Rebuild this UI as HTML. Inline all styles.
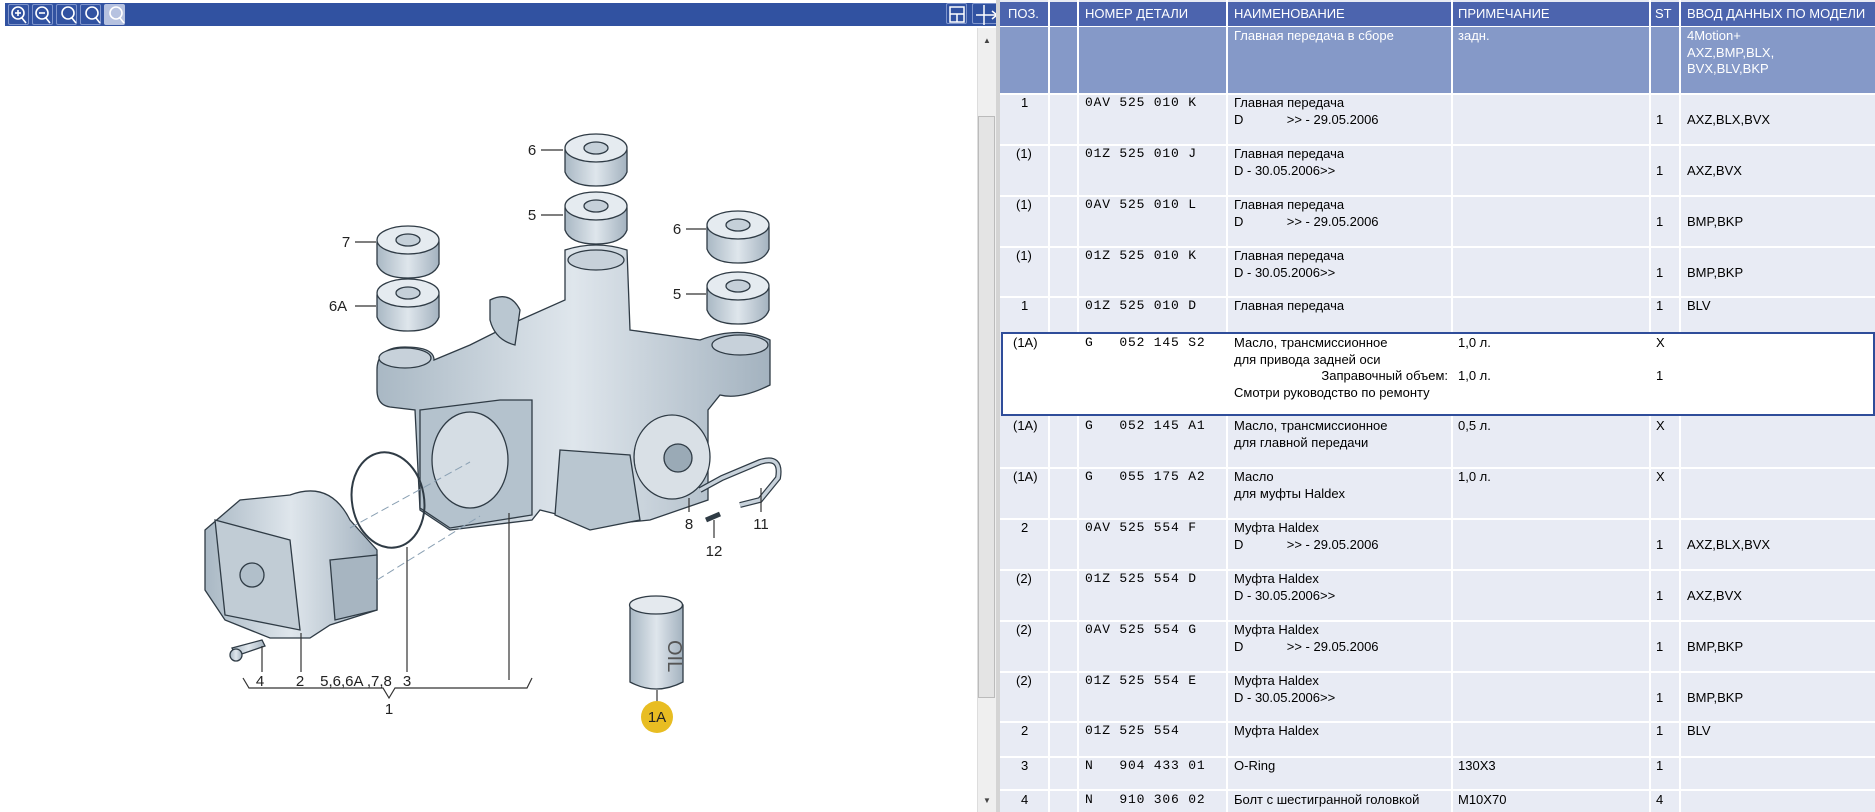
<!DOCTYPE html>
<html><head><meta charset="utf-8"><style>
*{margin:0;padding:0;box-sizing:border-box}
body{width:1875px;height:812px;overflow:hidden;background:#fff;position:relative;font-family:"Liberation Sans",Arial,sans-serif}
.abs{position:absolute}
.tb{position:absolute;top:3px;height:23px;background:#3152a1}
.ic{position:absolute;top:4px;width:21px;height:21px;border:1px solid #7f95cc;border-radius:2px;background:#3152a1}
.c{position:absolute;font-size:13px;line-height:16.7px;color:#000;white-space:pre;overflow:hidden}
.m{font-family:"Liberation Mono",monospace;font-size:13px;letter-spacing:.8px}
.h{color:#fff}
</style></head><body>
<!-- toolbar -->
<div class="tb" style="left:5px;width:995px"></div>
<div class="ic" style="left:8px"></div><div class="ic" style="left:32px"></div><div class="ic" style="left:56px"></div><div class="ic" style="left:80px"></div>
<div class="ic" style="left:104px;background:#b6c2e0;border-color:#b6c2e0"></div>
<svg class="abs" style="left:0;top:0" width="130" height="28">
<g fill="none" stroke="#fff" stroke-width="1.6">
<circle cx="18" cy="13" r="6"/><line x1="22" y1="18" x2="26" y2="23"/><line x1="15" y1="13" x2="21" y2="13"/><line x1="18" y1="10" x2="18" y2="16"/>
<circle cx="42" cy="13" r="6"/><line x1="46" y1="18" x2="50" y2="23"/><line x1="39" y1="13" x2="45" y2="13"/>
<circle cx="68" cy="13" r="6"/><line x1="72" y1="18" x2="76" y2="23"/>
<circle cx="92" cy="13" r="6"/><line x1="96" y1="18" x2="100" y2="23"/>
<circle cx="116" cy="13" r="6"/><line x1="120" y1="18" x2="124" y2="23"/></g></svg>
<div class="ic" style="left:946px;top:3px"></div><div class="ic" style="left:972px;top:3px;width:26px"></div>
<svg class="abs" style="left:946px;top:3px" width="54" height="24"><g stroke="#fff" fill="none" stroke-width="1.5"><rect x="4" y="4" width="14" height="15"/><line x1="4" y1="11" x2="18" y2="11"/><line x1="11" y1="11" x2="11" y2="19"/><line x1="38" y1="2" x2="38" y2="22"/><line x1="30" y1="12" x2="50" y2="12"/><path d="M46 8 L51 12 L46 16"/></g></svg>
<!-- scrollbar -->
<div class="abs" style="left:977px;top:28px;width:19px;height:784px;background:#efefef;border-left:1px solid #ddd"></div>
<div class="abs" style="left:978px;top:116px;width:17px;height:582px;background:#e4e4e4;border:1px solid #bbb"></div>
<div class="abs" style="left:983px;top:36px;font-size:8px;color:#444">▲</div>
<div class="abs" style="left:983px;top:796px;font-size:8px;color:#444">▼</div>
<div class="abs" style="left:996px;top:0;width:4px;height:812px;background:#d4d4d4"></div>

<!-- diagram -->
<svg class="abs" style="left:0;top:28px" width="977" height="784" viewBox="0 28 977 784">
<defs><linearGradient id="g" x1="0" x2="1"><stop offset="0" stop-color="#a9b8c4"/><stop offset=".5" stop-color="#dfe6ec"/><stop offset="1" stop-color="#a3b2bf"/></linearGradient></defs>
<g stroke="#2f3b45" stroke-width="1.3" fill="url(#g)">
<!-- housing -->
<path d="M377 370 Q377 347 405 347 Q434 347 434 360 L470 345 L520 320 L565 300 L565 250 Q596 240 627 250 L630 330 L700 340 Q740 325 770 340 L770 385 Q740 400 720 395 L708 410 L708 500 L650 520 L600 525 L540 510 L532 520 L450 530 L420 510 L415 410 L390 407 Q377 405 377 390 Z"/>
<ellipse cx="405" cy="358" rx="26" ry="10" fill="#c7d1da"/>
<ellipse cx="596" cy="260" rx="28" ry="10" fill="#c7d1da"/>
<ellipse cx="740" cy="345" rx="28" ry="10" fill="#c7d1da"/>
<path d="M420 410 L500 400 L532 400 L532 515 L450 528 L420 508 Z" fill="#b4c2cd"/>
<ellipse cx="470" cy="460" rx="38" ry="48" fill="#d5dde4"/>
<ellipse cx="672" cy="457" rx="38" ry="42" fill="#d9e0e6"/>
<circle cx="678" cy="458" r="14" fill="#9aaab6"/>
<path d="M560 450 L630 455 L640 520 L590 530 L555 515 Z" fill="#b9c6d0"/>
<path d="M490 300 Q510 290 520 310 L515 345 Q495 340 490 320 Z" fill="#bac7d1"/>
<!-- haldex -->
<path d="M205 530 L240 500 L290 495 Q330 480 350 520 L377 550 L377 610 L330 625 L310 638 L270 638 L225 620 L205 590 Z"/>
<path d="M215 520 L290 540 L300 630 L225 615 Z" fill="#c1ccd5"/>
<circle cx="252" cy="575" r="12" fill="#b1bfca"/>
<path d="M330 560 L377 555 L377 610 L335 620 Z" fill="#a7b5c1"/>
<!-- bolt -->
<path d="M232 648 L262 640 L265 646 L236 656 Z"/><circle cx="236" cy="655" r="6"/>
<!-- caps -->
<g id="cap">
<path d="M565 150 L565 172 Q570 186 596 186 Q622 186 627 172 L627 150 Z"/>
<ellipse cx="596" cy="148" rx="31" ry="14" fill="#e5ebf0"/>
<ellipse cx="596" cy="148" rx="12" ry="6" fill="#c5d0d9"/>
</g>
<g transform="translate(0,58)"><path d="M565 150 L565 172 Q570 186 596 186 Q622 186 627 172 L627 150 Z"/><ellipse cx="596" cy="148" rx="31" ry="14" fill="#e5ebf0"/><ellipse cx="596" cy="148" rx="12" ry="6" fill="#c5d0d9"/></g>
<g transform="translate(142,77)"><path d="M565 150 L565 172 Q570 186 596 186 Q622 186 627 172 L627 150 Z"/><ellipse cx="596" cy="148" rx="31" ry="14" fill="#e5ebf0"/><ellipse cx="596" cy="148" rx="12" ry="6" fill="#c5d0d9"/></g>
<g transform="translate(142,138)"><path d="M565 150 L565 172 Q570 186 596 186 Q622 186 627 172 L627 150 Z"/><ellipse cx="596" cy="148" rx="31" ry="14" fill="#e5ebf0"/><ellipse cx="596" cy="148" rx="12" ry="6" fill="#c5d0d9"/></g>
<g transform="translate(-188,92)"><path d="M565 150 L565 172 Q570 186 596 186 Q622 186 627 172 L627 150 Z"/><ellipse cx="596" cy="148" rx="31" ry="14" fill="#e5ebf0"/><ellipse cx="596" cy="148" rx="12" ry="6" fill="#c5d0d9"/></g>
<g transform="translate(-188,145)"><path d="M565 150 L565 172 Q570 186 596 186 Q622 186 627 172 L627 150 Z"/><ellipse cx="596" cy="148" rx="31" ry="14" fill="#e5ebf0"/><ellipse cx="596" cy="148" rx="12" ry="6" fill="#c5d0d9"/></g>
<!-- oil can -->
<path d="M630 605 L630 682 Q656 696 683 682 L683 605 Z"/>
<ellipse cx="656" cy="605" rx="26.5" ry="9" fill="#e4e9ee"/>
</g>
<text x="668" y="640" font-size="20" fill="#555" transform="rotate(90 668 640)" font-family="Liberation Sans">OIL</text>
<!-- o-ring -->
<ellipse cx="388" cy="500" rx="36" ry="48" transform="rotate(-10 388 500)" fill="none" stroke="#2f3b45" stroke-width="2"/>
<!-- hose -->
<path d="M700 490 L722 478 L760 462 Q782 455 778 478 L760 500 L740 505" fill="none" stroke="#2f3b45" stroke-width="6"/>
<path d="M700 490 L722 478 L760 462 Q782 455 778 478 L760 500 L740 505" fill="none" stroke="#c8d2db" stroke-width="3.5"/>
<path d="M706 520 L720 514" stroke="#2f3b45" stroke-width="5"/>
<!-- dashed -->
<g stroke="#8aa0b3" stroke-dasharray="8 4" stroke-width="1"><line x1="350" y1="528" x2="470" y2="462"/><line x1="377" y1="580" x2="480" y2="516"/></g>
<!-- leaders -->
<g stroke="#333" stroke-width="1.2" fill="none">
<line x1="541" y1="150" x2="563" y2="150"/><line x1="541" y1="215" x2="563" y2="215"/>
<line x1="686" y1="229" x2="706" y2="229"/><line x1="686" y1="294" x2="706" y2="294"/>
<line x1="355" y1="242" x2="376" y2="242"/><line x1="355" y1="306" x2="376" y2="306"/>
<line x1="262" y1="646" x2="262" y2="672"/><line x1="301" y1="633" x2="301" y2="672"/>
<line x1="407" y1="547" x2="407" y2="672"/><line x1="509" y1="513" x2="509" y2="680"/>
<line x1="689" y1="498" x2="689" y2="512"/><line x1="761" y1="488" x2="761" y2="512"/><line x1="714" y1="520" x2="714" y2="538"/>
<line x1="657" y1="690" x2="657" y2="702"/>
<path d="M243 678 L249 688 L383 688 L389 698 L395 688 L527 688 L532 678"/>
</g>
<circle cx="657" cy="717" r="16" fill="#e8bd22"/>
<g font-family="Liberation Sans" font-size="15" fill="#222" text-anchor="middle">
<text x="532" y="155">6</text><text x="532" y="220">5</text><text x="677" y="234">6</text><text x="677" y="299">5</text>
<text x="346" y="247">7</text><text x="338" y="311">6A</text>
<text x="260" y="686">4</text><text x="300" y="686">2</text><text x="356" y="686">5,6,6A ,7,8</text><text x="407" y="686">3</text>
<text x="389" y="714">1</text><text x="689" y="529">8</text><text x="761" y="529">11</text><text x="714" y="556">12</text>
<text x="657" y="722">1A</text></g>
</svg>

<!-- table -->
<div class="abs" style="left:1000px;top:0;width:875px;height:812px;background:#e8ebf4"></div>
<div class="abs" style="left:1000px;top:2px;width:875px;height:24px;background:#4c64ae"></div>
<div class="abs" style="left:1000px;top:27px;width:875px;height:66px;background:#8599c8"></div>
<!-- vertical grid -->
<div class="abs" style="left:1048px;top:0;width:2px;height:812px;background:#fff"></div>
<div class="abs" style="left:1077px;top:0;width:2px;height:812px;background:#fff"></div>
<div class="abs" style="left:1226px;top:0;width:2px;height:812px;background:#fff"></div>
<div class="abs" style="left:1451px;top:0;width:2px;height:812px;background:#fff"></div>
<div class="abs" style="left:1649px;top:0;width:2px;height:812px;background:#fff"></div>
<div class="abs" style="left:1679px;top:0;width:2px;height:812px;background:#fff"></div>
<!-- horizontal grid -->
<div class="abs" style="left:1000px;top:26px;width:875px;height:1px;background:#fff"></div>
<div class="abs" style="left:1000px;top:93px;width:875px;height:2px;background:#fff"></div>
<div class="abs" style="left:1000px;top:144px;width:875px;height:2px;background:#fff"></div>
<div class="abs" style="left:1000px;top:195px;width:875px;height:2px;background:#fff"></div>
<div class="abs" style="left:1000px;top:246px;width:875px;height:2px;background:#fff"></div>
<div class="abs" style="left:1000px;top:296px;width:875px;height:2px;background:#fff"></div>
<div class="abs" style="left:1000px;top:467px;width:875px;height:2px;background:#fff"></div>
<div class="abs" style="left:1000px;top:518px;width:875px;height:2px;background:#fff"></div>
<div class="abs" style="left:1000px;top:569px;width:875px;height:2px;background:#fff"></div>
<div class="abs" style="left:1000px;top:620px;width:875px;height:2px;background:#fff"></div>
<div class="abs" style="left:1000px;top:671px;width:875px;height:2px;background:#fff"></div>
<div class="abs" style="left:1000px;top:721px;width:875px;height:2px;background:#fff"></div>
<div class="abs" style="left:1000px;top:756px;width:875px;height:2px;background:#fff"></div>
<div class="abs" style="left:1000px;top:789px;width:875px;height:2px;background:#fff"></div>
<!-- selected -->
<div class="abs" style="left:1001px;top:332px;width:874px;height:84px;background:#fff;border:2px solid #2f4d9a"></div>

<div class="c h" style="left:1008px;top:6px">ПОЗ.</div>
<div class="c h" style="left:1085px;top:6px">НОМЕР ДЕТАЛИ</div>
<div class="c h" style="left:1234px;top:6px">НАИМЕНОВАНИЕ</div>
<div class="c h" style="left:1458px;top:6px">ПРИМЕЧАНИЕ</div>
<div class="c h" style="left:1655px;top:6px">ST</div>
<div class="c h" style="left:1687px;top:6px">ВВОД ДАННЫХ ПО МОДЕЛИ</div>
<div class="c h" style="left:1234px;top:28px">Главная передача в сборе</div>
<div class="c h" style="left:1458px;top:28px">задн.</div>
<div class="c h" style="left:1687px;top:28px">4Motion+
AXZ,BMP,BLX,
BVX,BLV,BKP</div>

<!-- rows: top offsets -->
<div class="c" style="left:1021px;top:95px">1</div><div class="c m" style="left:1085px;top:95px">0AV 525 010 K</div><div class="c" style="left:1234px;top:95px">Главная передача
D            >> - 29.05.2006</div><div class="c" style="left:1656px;top:112px">1</div><div class="c" style="left:1687px;top:112px">AXZ,BLX,BVX</div>

<div class="c" style="left:1016px;top:146px">(1)</div><div class="c m" style="left:1085px;top:146px">01Z 525 010 J</div><div class="c" style="left:1234px;top:146px">Главная передача
D - 30.05.2006>></div><div class="c" style="left:1656px;top:163px">1</div><div class="c" style="left:1687px;top:163px">AXZ,BVX</div>

<div class="c" style="left:1016px;top:197px">(1)</div><div class="c m" style="left:1085px;top:197px">0AV 525 010 L</div><div class="c" style="left:1234px;top:197px">Главная передача
D            >> - 29.05.2006</div><div class="c" style="left:1656px;top:214px">1</div><div class="c" style="left:1687px;top:214px">BMP,BKP</div>

<div class="c" style="left:1016px;top:248px">(1)</div><div class="c m" style="left:1085px;top:248px">01Z 525 010 K</div><div class="c" style="left:1234px;top:248px">Главная передача
D - 30.05.2006>></div><div class="c" style="left:1656px;top:265px">1</div><div class="c" style="left:1687px;top:265px">BMP,BKP</div>

<div class="c" style="left:1021px;top:298px">1</div><div class="c m" style="left:1085px;top:298px">01Z 525 010 D</div><div class="c" style="left:1234px;top:298px">Главная передача</div><div class="c" style="left:1656px;top:298px">1</div><div class="c" style="left:1687px;top:298px">BLV</div>

<div class="c" style="left:1013px;top:335px">(1A)</div><div class="c m" style="left:1085px;top:335px">G   052 145 S2</div><div class="c" style="left:1234px;top:335px">Масло, трансмиссионное
для привода задней оси</div><div class="c" style="left:1234px;top:368px;width:214px;text-align:right">Заправочный объем:</div><div class="c" style="left:1234px;top:385px">Смотри руководство по ремонту</div><div class="c" style="left:1458px;top:335px">1,0 л.</div><div class="c" style="left:1458px;top:368px">1,0 л.</div><div class="c" style="left:1656px;top:335px">X</div><div class="c" style="left:1656px;top:368px">1</div>

<div class="c" style="left:1013px;top:418px">(1A)</div><div class="c m" style="left:1085px;top:418px">G   052 145 A1</div><div class="c" style="left:1234px;top:418px">Масло, трансмиссионное
для главной передачи</div><div class="c" style="left:1458px;top:418px">0,5 л.</div><div class="c" style="left:1656px;top:418px">X</div>

<div class="c" style="left:1013px;top:469px">(1A)</div><div class="c m" style="left:1085px;top:469px">G   055 175 A2</div><div class="c" style="left:1234px;top:469px">Масло
для муфты Haldex</div><div class="c" style="left:1458px;top:469px">1,0 л.</div><div class="c" style="left:1656px;top:469px">X</div>

<div class="c" style="left:1021px;top:520px">2</div><div class="c m" style="left:1085px;top:520px">0AV 525 554 F</div><div class="c" style="left:1234px;top:520px">Муфта Haldex
D            >> - 29.05.2006</div><div class="c" style="left:1656px;top:537px">1</div><div class="c" style="left:1687px;top:537px">AXZ,BLX,BVX</div>

<div class="c" style="left:1016px;top:571px">(2)</div><div class="c m" style="left:1085px;top:571px">01Z 525 554 D</div><div class="c" style="left:1234px;top:571px">Муфта Haldex
D - 30.05.2006>></div><div class="c" style="left:1656px;top:588px">1</div><div class="c" style="left:1687px;top:588px">AXZ,BVX</div>

<div class="c" style="left:1016px;top:622px">(2)</div><div class="c m" style="left:1085px;top:622px">0AV 525 554 G</div><div class="c" style="left:1234px;top:622px">Муфта Haldex
D            >> - 29.05.2006</div><div class="c" style="left:1656px;top:639px">1</div><div class="c" style="left:1687px;top:639px">BMP,BKP</div>

<div class="c" style="left:1016px;top:673px">(2)</div><div class="c m" style="left:1085px;top:673px">01Z 525 554 E</div><div class="c" style="left:1234px;top:673px">Муфта Haldex
D - 30.05.2006>></div><div class="c" style="left:1656px;top:690px">1</div><div class="c" style="left:1687px;top:690px">BMP,BKP</div>

<div class="c" style="left:1021px;top:723px">2</div><div class="c m" style="left:1085px;top:723px">01Z 525 554</div><div class="c" style="left:1234px;top:723px">Муфта Haldex</div><div class="c" style="left:1656px;top:723px">1</div><div class="c" style="left:1687px;top:723px">BLV</div>

<div class="c" style="left:1021px;top:758px">3</div><div class="c m" style="left:1085px;top:758px">N   904 433 01</div><div class="c" style="left:1234px;top:758px">O-Ring</div><div class="c" style="left:1458px;top:758px">130X3</div><div class="c" style="left:1656px;top:758px">1</div>

<div class="c" style="left:1021px;top:792px">4</div><div class="c m" style="left:1085px;top:792px">N   910 306 02</div><div class="c" style="left:1234px;top:792px">Болт с шестигранной головкой</div><div class="c" style="left:1458px;top:792px">M10X70</div><div class="c" style="left:1656px;top:792px">4</div>
</body></html>
